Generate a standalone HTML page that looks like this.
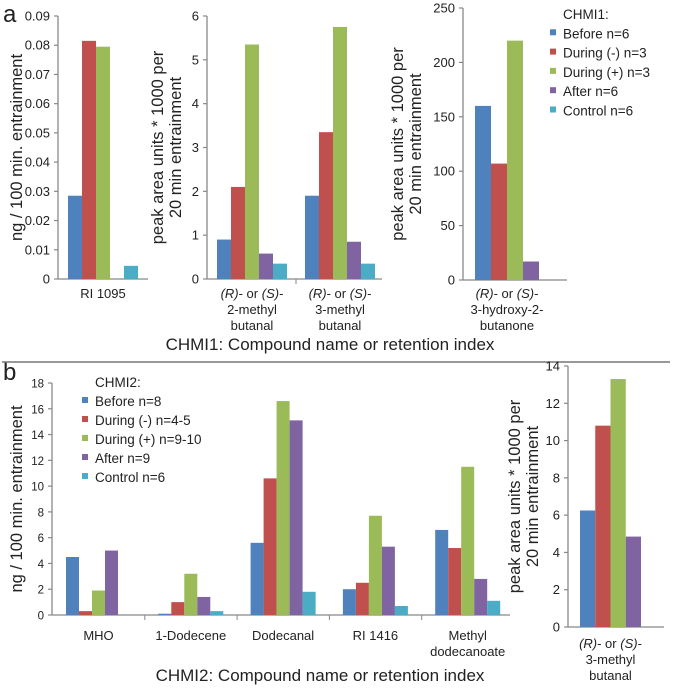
<!DOCTYPE html>
<html><head><meta charset="utf-8"><style>
body{margin:0;background:#fff;font-family:"Liberation Sans",sans-serif;}
svg text{font-family:"Liberation Sans",sans-serif;fill:#222;}
</style></head><body>
<svg id="s" width="675" height="687" viewBox="0 0 675 687" xmlns="http://www.w3.org/2000/svg"></svg>
<script>
const colors=["#4f81bd","#c0504d","#9bbb59","#8064a2","#4bacc6"];
const legendA=["Before n=6","During (-) n=3","During (+) n=3","After n=6","Control n=6"];
const legendB=["Before n=8","During (-) n=4-5","During (+) n=9-10","After n=9","Control n=6"];
// panel a1
const a1Cats=["RI 1095"];
const a1Vals=[[0.0285,0.0815,0.0795,0,0.0045]];
const a1Ticks=["0","0.01","0.02","0.03","0.04","0.05","0.06","0.07","0.08","0.09"];
// panel a2
const a2Cats=[["(R)- or (S)-","2-methyl","butanal"],["(R)- or (S)-","3-methyl","butanal"]];
const a2Vals=[[0.9,2.1,5.35,0.58,0.35],[1.9,3.35,5.75,0.85,0.35]];
const a2Ticks=["0","1","2","3","4","5","6"];
// panel a3
const a3Cats=[["(R)- or (S)-","3-hydroxy-2-","butanone"]];
const a3Vals=[[160,107,220,17,0]];
const a3Ticks=["0","50","100","150","200","250"];
// panel b1
const b1Cats=[["MHO"],["1-Dodecene"],["Dodecanal"],["RI 1416"],["Methyl","dodecanoate"]];
const b1Vals=[[4.5,0.3,1.9,5.0,0],[0.1,1.0,3.2,1.4,0.3],[5.6,10.6,16.6,15.1,1.8],[2.0,2.5,7.7,5.3,0.7],[6.6,5.2,11.5,2.8,1.1]];
const b1Ticks=["0","2","4","6","8","10","12","14","16","18"];
// panel b2
const b2Cats=[["(R)- or (S)-","3-methyl","butanal"]];
const b2Vals=[[6.25,10.8,13.3,4.85]];
const b2Ticks=["0","2","4","6","8","10","12","14"];

const svg=document.getElementById('s');
const NS="http://www.w3.org/2000/svg";
function mk(tag,attrs,parent){const e=document.createElementNS(NS,tag);for(const k in attrs)e.setAttribute(k,attrs[k]);(parent||svg).appendChild(e);return e;}
function txt(x,y,s,size,anchor,parent){const t=mk('text',{x:x,y:y,'font-size':size,'text-anchor':anchor||'middle'},parent);t.textContent=s;return t;}
function catLabel(x,y,s,size,g){
  const t=mk('text',{x:x,y:y,'font-size':size,'text-anchor':'middle'},g);
  const m=s.match(/^\(R\)- or \(S\)-$/);
  if(m){const a=mk('tspan',{'font-style':'italic'},t);a.textContent='(R)';const b=mk('tspan',{},t);b.textContent='- or ';const c=mk('tspan',{'font-style':'italic'},t);c.textContent='(S)';const d=mk('tspan',{},t);d.textContent='-';}
  else t.textContent=s;
}
function chart(name,o,cats,vals,ticks){
  const g=mk('g',{});
  
  
  const max=parseFloat(ticks[ticks.length-1]);
  const y=v=>o.y0-(v/max)*(o.y0-o.yTop);
  const ax=mk('line',{x1:o.x0,y1:o.yTop,x2:o.x0,y2:o.y0,stroke:'#888','stroke-width':1.3},g);
  
  const xa=mk('line',{x1:o.x0,y1:o.y0,x2:o.xEnd,y2:o.y0,stroke:'#888','stroke-width':1.3},g);
  
  ticks.forEach(t=>{const v=parseFloat(t);const yy=y(v);
    mk('line',{x1:o.x0-4,y1:yy,x2:o.x0,y2:yy,stroke:'#888','stroke-width':1.2},g);
    const tl=txt(o.x0-8,yy+4.5,t,o.tickSize||13,'end',g);
    });
  cats.forEach((c,i)=>{
    const gx=o.gStart+i*o.gStep;
    vals[i].forEach((v,j)=>{ if(v<=0)return;
      const r=mk('rect',{x:gx+j*o.bw,y:y(v),width:o.bw,height:o.y0-y(v),fill:colors[j]},g);
      });
    const cx=gx+o.bw*(o.nb||5)/2;
    const lines=Array.isArray(c)?c:[c];
    lines.forEach((s,k)=>catLabel(cx,o.labY+k*16,s,o.labSize||13,g));
    if(i>0){const tx=gx-o.gap/2; mk('line',{x1:tx,y1:o.y0,x2:tx,y2:o.y0+5,stroke:'#888'},g);}
  });
  const yt=mk('text',{transform:`translate(${o.titleX},${(o.y0+o.yTop)/2}) rotate(-90)`,'font-size':16.5,'text-anchor':'middle'},g);
  
  o.title.forEach((s,k)=>{const ts=mk('tspan',{x:0,dy:k?18:0},yt);ts.textContent=s;});
  return g;
}
function legend(name,x,y,head,items,step){
  const g=mk('g',{});
  
  
  txt(x+13,y,head,13.5,'start',g);
  items.forEach((s,i)=>{const yy=y+(i+1)*step;
    const r=mk('rect',{x:x,y:yy-9,width:6,height:6,fill:colors[i]},g);
    
    const t=txt(x+13,yy,s,13.5,'start',g);
    });
}
txt(3,22,'a',24,'start');
txt(3,380,'b',24,'start');

chart('chart-a1',{x0:58,y0:279,yTop:16,xEnd:148,gStart:68,gStep:90,gap:10,bw:14,labY:298,titleX:22,title:['ng / 100 min. entrainment']},a1Cats,a1Vals,a1Ticks);
chart('chart-a2',{x0:207,y0:279,yTop:16,xEnd:382,gStart:217,gStep:88,gap:18,bw:14,labY:298,titleX:163,title:['peak area units * 1000 per','20 min entrainment']},a2Cats,a2Vals,a2Ticks);
chart('chart-a3',{x0:463,y0:280,yTop:8,xEnd:567,gStart:475,gStep:90,gap:10,bw:16,nb:4,labY:298,titleX:403,title:['peak area units * 1000 per','20 min entrainment']},a3Cats,a3Vals,a3Ticks);
legend('legend-chmi1',550,19,'CHMI1:',legendA,19.3);
txt(330,350,'CHMI1: Compound name or retention index',17);
const sep=mk('line',{x1:2,y1:362,x2:670,y2:362,stroke:'#777','stroke-width':1.5});

chart('chart-b1',{x0:52,y0:615,yTop:383,xEnd:510,gStart:66,gStep:92.3,gap:27,bw:13,labY:640,labSize:13,tickSize:11.5,titleX:22,title:['ng / 100 min. entrainment']},b1Cats,b1Vals,b1Ticks);
legend('legend-chmi2',82,387,'CHMI2:',legendB,19);
txt(320,681,'CHMI2: Compound name or retention index',17);
chart('chart-b2',{x0:568,y0:627,yTop:366,xEnd:664,gStart:580,gStep:90,gap:10,bw:15.25,nb:4,labY:648,titleX:520,title:['peak area units * 1000 per','20 min entrainment']},b2Cats,b2Vals,b2Ticks);
</script>
</body></html>
